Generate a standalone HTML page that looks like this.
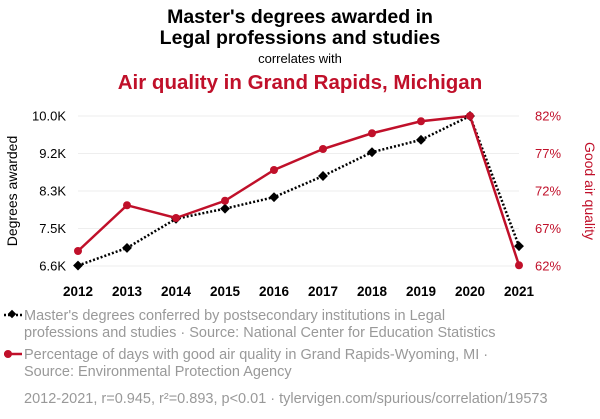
<!DOCTYPE html>
<html><head><meta charset="utf-8"><style>
body{margin:0;background:#fff;width:600px;height:414px;overflow:hidden;font-family:"Liberation Sans",sans-serif}
svg text{font-family:"Liberation Sans",sans-serif}
</style></head><body>
<svg width="600" height="414">
<text x="300" y="23" text-anchor="middle" font-size="19.5" font-weight="bold" fill="#000">Master's degrees awarded in</text>
<text x="300" y="44" text-anchor="middle" font-size="19.5" font-weight="bold" fill="#000">Legal professions and studies</text>
<text x="300" y="63" text-anchor="middle" font-size="13" fill="#000">correlates with</text>
<text x="300" y="89" text-anchor="middle" font-size="20.5" font-weight="bold" fill="#c0102a">Air quality in Grand Rapids, Michigan</text>
<g id="grid"></g>
<g id="axes"></g>
<text transform="translate(17,191) rotate(-90)" text-anchor="middle" font-size="14" fill="#000">Degrees awarded</text>
<text transform="translate(585,191) rotate(90)" text-anchor="middle" font-size="14" fill="#c0102a">Good air quality</text>
<g id="series"></g>
<g>
<line x1="4" y1="315" x2="22" y2="315" stroke="#000" stroke-width="2.5" stroke-dasharray="2,2"/>
<rect x="9" y="311" width="6" height="6" fill="#000" transform="rotate(45 12 314)"/>
<text x="24" y="320" font-size="14.5" fill="#999">Master's degrees conferred by postsecondary institutions in Legal</text>
<text x="24" y="337" font-size="14.5" fill="#999">professions and studies · Source: National Center for Education Statistics</text>
</g>
<g>
<line x1="4" y1="354" x2="22" y2="354" stroke="#c0102a" stroke-width="2.5"/>
<circle cx="8" cy="354" r="4" fill="#c0102a"/>
<text x="24" y="359" font-size="14.5" fill="#999">Percentage of days with good air quality in Grand Rapids-Wyoming, MI ·</text>
<text x="24" y="376" font-size="14.5" fill="#999">Source: Environmental Protection Agency</text>
</g>
<text x="24" y="403" font-size="14.5" fill="#999">2012-2021, r=0.945, r²=0.893, p&lt;0.01 · tylervigen.com/spurious/correlation/19573</text>
</svg>
<script>
const years=[2012,2013,2014,2015,2016,2017,2018,2019,2020,2021];
const degrees=[6610,7010,7670,7900,8160,8640,9180,9460,10000,7050];
const airQuality=[64.0,70.1,68.4,70.7,74.8,77.6,79.7,81.3,82.0,62.1];
const leftTicks=[6600,7450,8300,9150,10000];
const leftTickLabels=["6.6K","7.5K","8.3K","9.2K","10.0K"];
const rightTicks=[62,67,72,77,82];
const rightTickLabels=["62%","67%","72%","77%","82%"];
const NS="http://www.w3.org/2000/svg";
const x0=78,x1=519,yT=116,yB=266;
function xS(y){return x0+(y-years[0])/(years[years.length-1]-years[0])*(x1-x0);}
function yL(v){return yB-(v-6600)/(10000-6600)*(yB-yT);}
function yR(v){return yB-(v-62)/(82-62)*(yB-yT);}
function mk(tag,attrs,parent){const e=document.createElementNS(NS,tag);for(const k in attrs)e.setAttribute(k,attrs[k]);parent.appendChild(e);return e;}
const grid=document.getElementById('grid'),axes=document.getElementById('axes'),ser=document.getElementById('series');
leftTicks.forEach((t,i)=>{
 const y=yL(t);
 const g=mk('line',{x1:x0,x2:x1,y1:y,y2:y,stroke:'#eee','stroke-width':1},grid);
 
 
 const tl=mk('text',{x:66,y:y+4.5,'text-anchor':'end','font-size':13,fill:'#000'},axes);tl.textContent=leftTickLabels[i];
 
 
});
rightTicks.forEach((t,i)=>{
 const tr=mk('text',{x:535,y:yR(t)+4.5,'font-size':13,fill:'#c0102a'},axes);tr.textContent=rightTickLabels[i];
 
 
});
years.forEach(yr=>{
 const t=mk('text',{x:xS(yr),y:296,'text-anchor':'middle','font-size':13.5,'font-weight':'bold',fill:'#000'},axes);t.textContent=yr;
 
 
});
const pb=mk('polyline',{points:years.map((y,i)=>xS(y)+','+yL(degrees[i])).join(' '),fill:'none',stroke:'#000','stroke-width':2.5,'stroke-dasharray':'2,2'},ser);


const pr=mk('polyline',{points:years.map((y,i)=>xS(y)+','+yR(airQuality[i])).join(' '),fill:'none',stroke:'#c0102a','stroke-width':2.5},ser);


years.forEach((yr,i)=>{
 const cx=xS(yr),cy=yL(degrees[i]);
 const d=mk('rect',{x:cx-3.5,y:cy-3.5,width:7,height:7,fill:'#000',transform:`rotate(45 ${cx} ${cy})`},ser);
 
 
 const c=mk('circle',{cx:cx,cy:yR(airQuality[i]),r:4,fill:'#c0102a'},ser);
 
 
});
</script>
</body></html>
